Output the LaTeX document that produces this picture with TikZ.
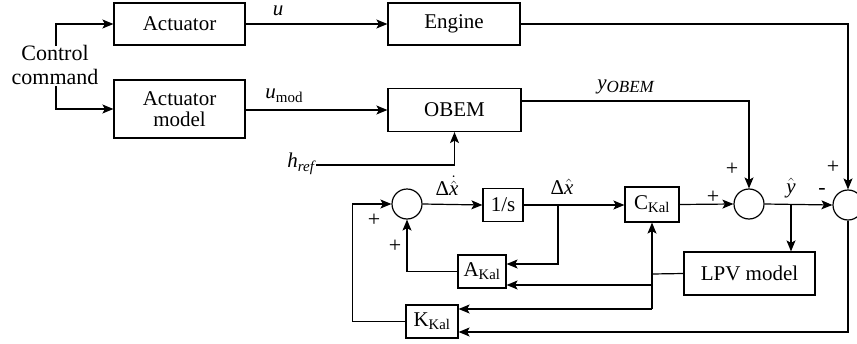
\documentclass[tikz,border=0pt]{standalone}
\usepackage{fontspec}
\setmainfont{Liberation Serif}
\usetikzlibrary{arrows.meta,calc}
\begin{document}
\begin{tikzpicture}[x=1pt,y=-1pt,
  every node/.style={font=\fontsize{21}{24}\selectfont},
  blk/.style={draw,line width=1.2pt,rectangle,inner sep=0pt,align=center},
  sumc/.style={draw,line width=1.2pt,circle,inner sep=0pt,minimum size=30pt},
  lbl/.style={inner sep=0pt},
  sgn/.style={inner sep=0pt,font=\fontsize{22}{24}\selectfont},
  wire/.style={line width=1.2pt},
  arr/.style={line width=1.2pt,-{Stealth[length=11pt,width=9pt,inset=2.5pt]}}]
\useasboundingbox (0,0) rectangle (857,343);
% blocks
\node[blk,minimum width=131pt,minimum height=42pt] (act) at (179.5,24) {Actuator};
\node[blk,minimum width=132pt,minimum height=42pt] (eng) at (454,24) {Engine};
\node[blk,minimum width=131pt,minimum height=58pt] (actm) at (179.5,109) {Actuator\\[-3pt]model};
\node[blk,minimum width=133pt,minimum height=43pt] (obem) at (454.5,110) {OBEM};
\node[lbl,align=center,font=\fontsize{22}{25}\selectfont] (cc) at (55,65) {Control\\[-1pt]command};
\node[lbl,anchor=east] (href) at (316,164) {\textit{h}\raisebox{-4pt}{\fontsize{15}{15}\selectfont\textit{ref}}};
\node[sumc] (s1) at (407,204) {};
\node[sumc] (s2) at (749,204) {};
\node[sumc] (s3) at (848,205) {};
\node[blk,minimum width=40pt,minimum height=33pt] (ints) at (503,205) {1/s};
\node[blk,minimum width=54pt,minimum height=35pt] (ckal) at (652,204.5) {C\textsubscript{Kal}};
\node[blk,minimum width=48pt,minimum height=33pt] (akal) at (482,271.5) {A\textsubscript{Kal}};
\node[blk,minimum width=52pt,minimum height=33pt] (kkal) at (432,321.5) {K\textsubscript{Kal}};
\node[blk,minimum width=131pt,minimum height=43pt] (lpv) at (749.5,273.5) {LPV model};
% helper coordinates
\coordinate (ccup) at (56,46);
\coordinate (ccdn) at (56,86);
\coordinate (jx) at (558,205);
\coordinate (jy) at (791,204);
\coordinate (jl) at (652,274);
\coordinate (jla) at (652,285);
\coordinate (jlk) at (652,309);
% upper connections
\draw[arr] (ccup) |- (act.west);
\draw[arr] (ccdn) |- (actm.west);
\draw[arr] (act.east) -- (eng.west);
\node[lbl] (ulab) at (278,11) {\textit{u}};
\draw[arr] (actm.east |- obem.west) -- (obem.west);
\node[lbl] (umod) at (284,96) {\textit{u}\raisebox{-4pt}{\fontsize{15}{15}\selectfont mod}};
\draw[arr] (href.east |- 0,165) -| (obem.south);
\draw[arr] ($(obem.north east)+(0,13)$) -| (s2.north);
\node[lbl] (yob) at (626,87) {\textit{y}\raisebox{-3pt}{\fontsize{17}{17}\selectfont\textit{OBEM}}};
\draw[arr] (eng.east) -| (s3.north);
\node[sgn] at (732,169) {+};
\node[sgn] at (833,167) {+};
% lower loop
\draw[arr] (s1.east) -- (ints.west);
\node[lbl] (dxd) at (447,186) {Δ$\dot{\hat{\textit{x}}}$};
\draw[arr] (ints.east) -- (ints.east -| ckal.west);
\node[lbl] (dx) at (562,187) {Δ$\hat{\textit{x}}$};
\draw[arr] (jx) |- ($(akal.east)+(0,-7.5)$);
\draw[arr] (ckal.east) -- (s2.west);
\node[sgn] at (713,197) {+};
\draw[arr] (s2.east) -- (s3.west);
\node[lbl] (yh) at (791,188) {$\hat{\textit{y}}$};
\node[sgn] at (822,191) {-};
\draw[arr] (jy) -- (jy |- lpv.north);
\draw[arr] (s3.south) |- ($(kkal.east)+(0,10.5)$);
\draw[wire] (lpv.west) -- (jl);
\draw[arr] (jlk) -- (ckal.south);
\draw[arr] (jla) -- (jla -| akal.east);
\draw[arr] (jlk) -- (jlk -| kkal.east);
\draw[arr] (akal.west) -| (s1.south);
\node[sgn] at (395,246) {+};
\draw[arr] (kkal.west) -- ++(-53,0) |- (s1.west);
\node[sgn] at (374,220) {+};
\end{tikzpicture}
\end{document}
